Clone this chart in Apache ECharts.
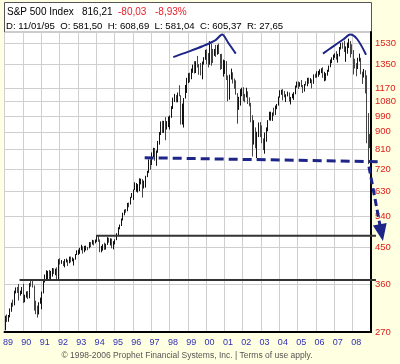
<!DOCTYPE html>
<html><head><meta charset="utf-8">
<script src="https://cdn.jsdelivr.net/npm/echarts@6/dist/echarts.min.js"></script>
<style>html,body{margin:0;padding:0;background:#ffffe1}#c{width:400px;height:364px}</style>
</head><body><div id="c"></div>
<script>
const startYear = 1989;
const yearLabels = ['89','90','91','92','93','94','95','96','97','98','99','00','01','02','03','04','05','06','07','08'];
const priceTicks = [270,360,450,540,630,720,810,900,990,1080,1170,1350,1530];

const open = [
277.7,297.5,288.9,294.9,309.6,320.5,317.9,346.1,351.5,349.2,340.4,346.0,
353.4,329.1,331.9,339.9,330.8,361.2,358.0,356.2,322.6,306.1,304.0,322.2,
330.2,343.9,367.1,375.2,375.3,389.8,371.2,387.8,395.4,387.9,392.5,375.2,
417.0,408.8,412.7,403.7,414.9,415.4,408.1,424.2,414.0,417.8,418.7,431.4,
435.7,438.8,443.4,451.7,440.2,450.2,450.5,448.1,463.6,458.9,467.8,461.8,
466.5,481.6,467.1,445.8,450.9,456.5,444.3,458.3,475.5,462.7,472.4,453.7,
459.3,470.4,487.4,500.7,514.7,533.4,544.8,562.1,561.9,584.4,581.5,605.4,
615.9,636.0,640.4,645.5,654.2,669.1,670.6,639.9,652.0,687.3,705.3,757.0,
740.7,786.2,790.8,757.1,801.3,848.3,885.1,954.3,899.5,947.3,914.6,955.4,
970.4,980.3,1049.3,1101.8,1111.8,1090.8,1133.8,1120.7,957.3,1017.0,1098.7,1163.6,
1229.2,1279.6,1238.3,1286.4,1335.2,1301.8,1372.7,1328.7,1320.4,1282.7,1362.9,1389.0,
1469.3,1394.5,1366.4,1498.6,1452.4,1420.6,1454.6,1430.8,1517.7,1436.5,1429.4,1315.2,
1320.3,1366.0,1239.9,1160.3,1249.5,1255.8,1224.4,1211.2,1133.6,1040.9,1059.8,1139.5,
1148.1,1130.2,1106.7,1147.4,1076.9,1067.1,989.8,911.6,916.1,815.3,885.8,936.3,
879.8,855.7,841.2,848.2,916.9,963.6,974.5,990.3,1008.0,996.0,1050.7,1058.2,
1111.9,1131.1,1144.9,1126.2,1107.3,1120.7,1140.8,1101.7,1104.2,1114.6,1130.2,1173.8,
1211.9,1181.3,1203.6,1180.6,1156.9,1191.5,1191.3,1234.2,1220.3,1228.8,1207.0,1249.5,
1248.3,1280.1,1280.7,1294.9,1310.6,1270.1,1270.2,1276.7,1303.8,1335.9,1377.9,1400.6,
1418.3,1438.2,1406.8,1420.9,1482.4,1530.6,1503.4,1455.3,1474.0,1526.8,1549.4,1481.1,
1468.4,1378.6,1330.6,1322.7,1385.6,1400.4,1280.0,1267.4,1282.8,1166.4,968.7,888.6];

const high = [
297.8,300.0,299.1,311.1,322.0,328.0,346.1,353.0,354.1,360.4,346.3,354.1,
360.6,337.9,344.5,345.3,362.3,368.9,369.8,357.2,326.0,316.3,323.0,332.0,
344.2,371.3,381.5,391.3,390.0,392.0,390.0,396.6,396.1,395.2,398.2,418.3,
420.8,416.1,413.7,418.5,419.9,416.8,424.8,425.1,423.0,420.1,431.5,441.3,
442.9,448.0,456.3,451.9,453.3,453.9,450.5,463.6,463.6,470.0,468.6,470.9,
482.9,482.9,471.1,453.1,457.6,462.1,459.0,477.6,476.0,474.2,473.5,466.4,
471.4,489.2,507.1,515.2,534.3,553.2,563.8,565.6,586.8,587.9,608.7,622.9,
636.2,664.2,661.5,657.1,680.3,679.1,677.0,671.0,690.9,711.6,762.1,762.1,
794.7,817.4,816.3,804.1,851.9,898.7,957.7,961.6,961.1,983.1,960.0,986.2,
992.7,1050.0,1105.7,1130.5,1122.1,1139.8,1190.6,1121.0,1066.1,1102.6,1192.9,1244.9,
1280.4,1283.8,1316.2,1347.8,1375.9,1376.0,1420.3,1352.6,1361.7,1373.3,1410.0,1473.4,
1478.0,1444.6,1552.9,1527.2,1481.5,1480.4,1517.3,1518.0,1530.1,1436.5,1438.5,1389.1,
1383.4,1376.4,1263.5,1269.3,1315.9,1286.6,1239.8,1226.3,1135.5,1110.6,1163.4,1173.0,
1176.6,1130.2,1173.0,1147.8,1106.6,1070.7,994.5,965.0,924.0,900.1,951.6,954.3,
935.1,864.6,895.9,924.2,965.4,1015.3,1015.4,1011.0,1040.3,1053.8,1063.7,1112.6,
1155.4,1158.9,1163.2,1150.6,1127.7,1146.3,1140.8,1109.7,1131.5,1142.1,1188.5,1217.3,
1217.8,1212.4,1229.1,1191.9,1199.6,1219.6,1245.2,1245.9,1243.1,1233.3,1270.6,1275.8,
1294.9,1297.6,1310.9,1318.2,1326.7,1290.7,1280.4,1306.7,1340.3,1389.5,1407.9,1431.8,
1441.6,1461.6,1438.9,1498.0,1535.6,1540.6,1555.9,1503.9,1538.7,1576.1,1552.8,1523.6,
1471.8,1396.0,1359.7,1404.6,1440.2,1404.1,1292.2,1313.2,1303.0,1264.1,1007.5,888.6];

const low = [
272.8,286.6,287.1,294.9,305.0,314.2,316.9,340.5,341.4,326.3,336.0,339.1,
321.4,322.9,331.9,329.1,330.8,354.6,352.8,307.1,300.6,294.5,300.0,320.0,
309.4,340.6,363.7,370.0,371.3,367.7,371.2,376.7,382.7,379.9,371.4,371.2,
405.0,406.8,401.5,398.2,410.3,401.6,408.1,410.4,413.0,402.7,417.0,429.0,
429.1,431.9,441.4,432.6,436.2,440.8,441.4,446.3,449.6,457.0,454.3,460.1,
464.2,464.4,436.2,435.9,440.3,442.4,443.2,455.8,461.9,454.5,446.6,443.8,
457.2,469.0,483.2,500.7,510.6,527.9,544.8,553.1,558.0,571.6,581.0,605.4,
597.3,633.7,627.6,624.4,630.0,656.0,605.9,639.9,643.4,685.2,703.0,716.0,
737.0,773.0,756.0,733.5,793.2,833.0,883.0,893.2,894.0,855.3,912.0,925.5,
912.8,979.0,1032.0,1076.7,1074.4,1074.7,1114.3,939.9,939.9,923.3,1098.7,1136.9,
1205.5,1211.9,1234.5,1282.8,1277.3,1281.4,1325.1,1268.4,1263.0,1233.7,1348.0,1387.4,
1350.1,1325.1,1346.6,1339.4,1361.1,1420.6,1412.1,1430.8,1436.5,1305.8,1312.5,1254.1,
1274.6,1228.4,1081.2,1091.9,1232.4,1203.0,1165.5,1124.9,944.8,1026.8,1053.4,1114.9,
1081.7,1074.4,1106.7,1063.5,1048.9,952.9,775.7,833.4,815.3,768.6,872.1,871.8,
840.3,806.3,788.9,847.9,902.8,963.6,962.1,960.8,990.4,996.0,1031.2,1053.4,
1105.1,1124.4,1087.2,1107.2,1076.3,1113.3,1078.8,1060.7,1101.3,1090.2,1127.6,1173.8,
1163.8,1180.1,1176.9,1136.2,1146.2,1188.3,1183.6,1201.1,1205.4,1168.2,1201.1,1245.7,
1245.7,1253.6,1268.4,1280.7,1245.3,1219.3,1224.5,1261.3,1290.9,1327.1,1360.0,1385.9,
1403.8,1389.1,1363.9,1416.4,1476.7,1484.2,1454.3,1370.6,1439.3,1489.6,1406.1,1435.7,
1270.1,1316.8,1256.9,1312.0,1373.1,1272.0,1200.4,1247.5,1133.5,839.8,741.0,815.7];

const close = [
297.5,288.9,294.9,309.6,320.5,317.9,346.1,351.5,349.2,340.4,346.0,353.4,
329.1,331.9,339.9,330.8,361.2,358.0,356.2,322.6,306.1,304.0,322.2,330.2,
343.9,367.1,375.2,375.3,389.8,371.2,387.8,395.4,387.9,392.5,375.2,417.1,
408.8,412.7,403.7,414.9,415.4,408.1,424.2,414.0,417.8,418.7,431.4,435.7,
438.8,443.4,451.7,440.2,450.2,450.5,448.1,463.6,458.9,467.8,461.8,466.5,
481.6,467.1,445.8,450.9,456.5,444.3,458.3,475.5,462.7,472.4,453.7,459.3,
470.4,487.4,500.7,514.7,533.4,544.8,562.1,561.9,584.4,581.5,605.4,615.9,
636.0,640.4,645.5,654.2,669.1,670.6,639.9,652.0,687.3,705.3,757.0,740.7,
786.2,790.8,757.1,801.3,848.3,885.1,954.3,899.5,947.3,914.6,955.4,970.4,
980.3,1049.3,1101.8,1111.8,1090.8,1133.8,1120.7,957.3,1017.0,1098.7,1163.6,1229.2,
1279.6,1238.3,1286.4,1335.2,1301.8,1372.7,1328.7,1320.4,1282.7,1362.9,1389.0,1469.3,
1394.5,1366.4,1498.6,1452.4,1420.6,1454.6,1430.8,1517.7,1436.5,1429.4,1315.2,1320.3,
1366.0,1239.9,1160.3,1249.5,1255.8,1224.4,1211.2,1133.6,1040.9,1059.8,1139.5,1148.1,
1130.2,1106.7,1147.4,1076.9,1067.1,989.8,911.6,916.1,815.3,885.8,936.3,879.8,
855.7,841.2,848.2,916.9,963.6,974.5,990.3,1008.0,996.0,1050.7,1058.2,1111.9,
1131.1,1144.9,1126.2,1107.3,1120.7,1140.8,1101.7,1104.2,1114.6,1130.2,1173.8,1211.9,
1181.3,1203.6,1180.6,1156.9,1191.5,1191.3,1234.2,1220.3,1228.8,1207.0,1249.5,1248.3,
1280.1,1280.7,1294.9,1310.6,1270.1,1270.2,1276.7,1303.8,1335.9,1377.9,1400.6,1418.3,
1438.2,1406.8,1420.9,1482.4,1530.6,1503.4,1455.3,1474.0,1526.8,1549.4,1481.1,1468.4,
1378.6,1330.6,1322.7,1385.6,1400.4,1280.0,1267.4,1282.8,1166.4,968.8,896.2,816.2];

// annotations in data coordinates: [yearFrom, priceFrom, yearTo, priceTo]
const supportLines = [[1989.82, 369, 2009.27, 369], [1994.0, 482, 2009.27, 482]];
const necklineSeg = [[1996.65, 770, 2009.38, 752]];
const arrowSeg = [[2008.89, 730, 2009.65, 467]];
const arcTop2000 = [[1998.21, 1410], [1999.0, 1455], [1999.8, 1505], [2000.5, 1560], [2000.88, 1615], [2001.2, 1540], [2001.62, 1440]];
const arcTop2007 = [[2006.38, 1440], [2006.9, 1500], [2007.5, 1570], [2007.86, 1615], [2008.25, 1570], [2008.73, 1430]];

const candles = open.map((o, i) => [startYear + (i + 0.5) / 12, o, close[i], low[i], high[i]]);

const chart = echarts.init(document.getElementById('c'), null, {renderer: 'canvas'});
const navy = '#1d2687';
const font = '"Liberation Sans", Arial, sans-serif';
const txt = (text, x, y, fill, size, align) => ({
  type: 'text', z: 100, x: x, y: y,
  style: {text: text, fill: fill, font: size + 'px ' + font, align: align || 'left', verticalAlign: 'middle'}
});
const segSeries = (data, style, arrow) => ({
  type: 'custom', data: data, silent: true, clip: false, z: 6,
  encode: {x: [0, 2], y: [1, 3]},
  renderItem: (params, api) => {
    const p1 = api.coord([api.value(0), api.value(1)]);
    const p2 = api.coord([api.value(2), api.value(3)]);
    if (!arrow) {
      return {type: 'line', shape: {x1: p1[0], y1: p1[1], x2: p2[0], y2: p2[1]}, style: style};
    }
    const dx = p2[0] - p1[0], dy = p2[1] - p1[1];
    const len = Math.sqrt(dx * dx + dy * dy);
    const ux = dx / len, uy = dy / len;
    const headLen = 17, headW = 7;
    const bx = p2[0] - ux * headLen, by = p2[1] - uy * headLen;
    return {
      type: 'group', children: [
        {type: 'line', shape: {x1: p1[0], y1: p1[1], x2: bx + ux * 2, y2: by + uy * 2}, style: style},
        {type: 'polygon', shape: {points: [[p2[0], p2[1]], [bx - uy * headW, by + ux * headW], [bx + uy * headW, by - ux * headW]]}, style: {fill: style.stroke}}
      ]
    };
  }
});

chart.setOption({
  animation: false,
  backgroundColor: '#ffffe1',
  graphic: [
    {type: 'rect', z: -10, shape: {x: 4.5, y: 2.5, width: 367, height: 330}, style: {fill: '#fff', stroke: '#555', lineWidth: 1}},
    txt('S&P 500 Index', 7, 12, '#000', 10),
    txt('816,21', 82, 12, '#000', 10),
    txt('-80,03', 118, 12, '#e8202a', 10),
    txt('-8,93%', 155, 12, '#e8202a', 10),
    txt('D: 11/01/95  O: 581,50  H: 608,69  L: 581,04  C: 605,37  R: 27,65', 6, 26, '#000', 9.6),
    txt('\u00a9 1998-2006 Prophet Financial Systems, Inc. | Terms of use apply.', 187, 356, '#555', 8.5, 'center')
  ],
  grid: {left: 4, right: 29, top: 32, bottom: 32, show: true, backgroundColor: '#fff', borderColor: '#999', borderWidth: 1},
  xAxis: {
    type: 'value', min: 1989, max: 2009, interval: 1,
    axisLine: {show: true, onZero: false, lineStyle: {color: '#000', width: 2}},
    axisTick: {show: false},
    splitLine: {show: true, lineStyle: {color: '#cfcfcf', width: 1}},
    axisLabel: {
      formatter: v => yearLabels[v - startYear] || '',
      color: '#2f2fb8', fontSize: 9, fontFamily: font, margin: 6, showMaxLabel: false, padding: [0, 0, 0, 7]
    }
  },
  yAxis: {
    type: 'log', logBase: 10, min: 270, max: 1640, position: 'right',
    axisLine: {show: true, lineStyle: {color: '#000', width: 2}},
    axisTick: {show: false, customValues: priceTicks},
    splitLine: {show: true, lineStyle: {color: '#cfcfcf', width: 1}},
    axisLabel: {customValues: priceTicks, formatter: v => String(Math.round(v)), color: '#e0201c', fontSize: 9.5, fontFamily: font, margin: 4}
  },
  series: [
    {
      type: 'candlestick', data: candles, encode: {x: 0, y: [1, 2, 3, 4]}, barWidth: 1,
      itemStyle: {color: '#111', color0: '#555', borderColor: '#111', borderColor0: '#444', borderWidth: 1}
    },
    segSeries(supportLines, {stroke: '#333', lineWidth: 2}),
    segSeries(necklineSeg, {stroke: navy, lineWidth: 3, lineDash: [9, 5]}),
    segSeries(arrowSeg, {stroke: navy, lineWidth: 3, lineDash: [7, 4]}, true),
    {type: 'line', data: arcTop2000, smooth: 0.3, clip: false, symbol: 'none', silent: true, z: 5, lineStyle: {color: navy, width: 2}},
    {type: 'line', data: arcTop2007, smooth: 0.3, clip: false, symbol: 'none', silent: true, z: 5, lineStyle: {color: navy, width: 2}}
  ]
});
</script>
</body></html>
